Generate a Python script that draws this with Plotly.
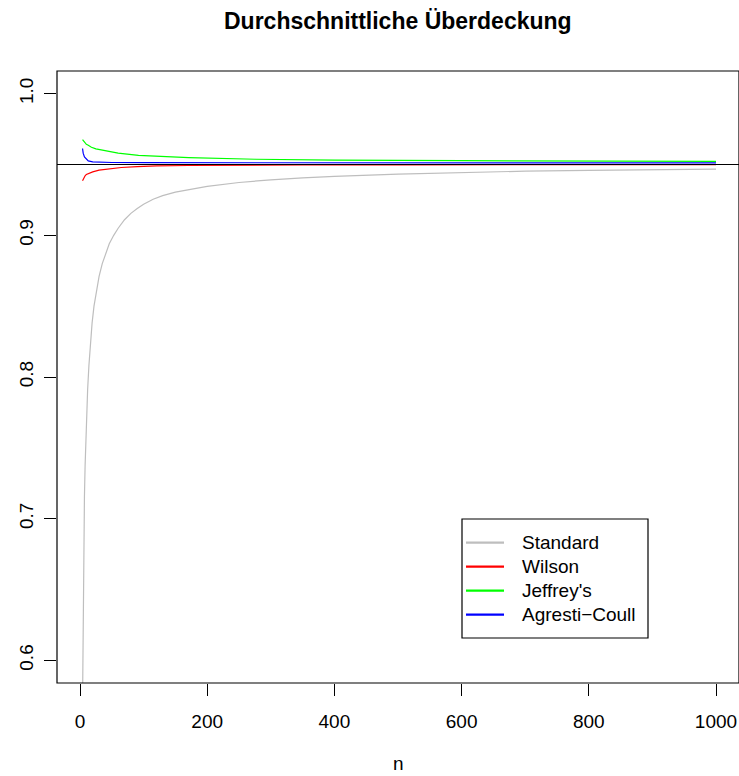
import plotly.graph_objects as go

# Average coverage of binomial confidence intervals as a function of n
n_standard = [4, 5, 6, 7, 8, 9, 10, 12, 14, 16, 19, 22, 26, 30, 35, 40, 46, 53, 60,
              70, 80, 90, 100, 115, 130, 150, 175, 200, 250, 300, 350, 400, 500, 600,
              700, 800, 900, 1000]
cov_standard = [0.570, 0.645, 0.688, 0.716, 0.737, 0.754, 0.768, 0.791, 0.808, 0.822,
                0.838, 0.850, 0.862, 0.871, 0.880, 0.887, 0.894, 0.900, 0.905,
                0.911, 0.9155, 0.919, 0.922, 0.9255, 0.928, 0.9305, 0.9328, 0.9346,
                0.9373, 0.9392, 0.9405, 0.9416, 0.9432, 0.9444, 0.9453, 0.9459, 0.9464,
                0.9467]

n_wilson = [4, 6, 8, 10, 15, 20, 30, 45, 65, 90, 120, 170, 250, 350, 500, 700, 1000]
cov_wilson = [0.9385, 0.9405, 0.9420, 0.9430, 0.9440, 0.9448, 0.9460, 0.9470, 0.9479,
              0.9485, 0.9490, 0.9493, 0.9496, 0.9497, 0.9498, 0.9498, 0.9499]

n_jeffreys = [4, 6, 8, 10, 13, 18, 25, 39, 60, 92, 130, 171, 276, 400, 600, 800, 1000]
cov_jeffreys = [0.9676, 0.9662, 0.9650, 0.9642, 0.9636, 0.9622, 0.9610, 0.9596, 0.9580,
                0.9565, 0.9556, 0.9549, 0.9537, 0.9531, 0.9527, 0.9524, 0.9522]

n_agresti = [4, 5, 7, 10, 13, 20, 29, 50, 100, 200, 400, 700, 1000]
cov_agresti = [0.9613, 0.9580, 0.9554, 0.9535, 0.9525, 0.9519, 0.9516, 0.9514, 0.9513,
               0.9512, 0.9511, 0.9511, 0.9511]

nominal = 0.95
x_ticks = [0, 200, 400, 600, 800, 1000]
y_ticks = [0.6, 0.7, 0.8, 0.9, 1.0]
y_tick_text = ["0.6", "0.7", "0.8", "0.9", "1.0"]

series = [
    ("Standard", n_standard, cov_standard, "#BEBEBE"),
    ("Wilson", n_wilson, cov_wilson, "#FF0000"),
    ("Jeffrey's", n_jeffreys, cov_jeffreys, "#00FF00"),
    ("Agresti\u2212Coull", n_agresti, cov_agresti, "#0000FF"),
]

W, H = 739, 776
ML, MR, MT, MB = 57, 0, 71, 93
FONT = "Liberation Sans, Arial, Helvetica, sans-serif"
FS = 19

def px_x(p):
    return (p - ML) / (W - ML - MR)

def px_y(p):
    return (H - MB - p) / (H - MT - MB)

fig = go.Figure()

for name, xs, ys, col in series:
    fig.add_trace(go.Scatter(x=xs, y=ys, mode="lines", name=name,
                             line=dict(color=col, width=1.2), showlegend=False,
                             hoverinfo="skip"))

# reference line at the nominal level
fig.add_trace(go.Scatter(x=[-100, 1200], y=[nominal, nominal], mode="lines",
                         line=dict(color="black", width=1.2), showlegend=False,
                         hoverinfo="skip"))

shapes = [dict(type="rect", xref="paper", yref="paper", x0=0, x1=1, y0=0, y1=1,
               line=dict(color="black", width=1.2), fillcolor="rgba(0,0,0,0)")]
annotations = []

# legend box
lx0, lx1, ly0, ly1 = 462, 648, 519, 638
shapes.append(dict(type="rect", xref="paper", yref="paper",
                   x0=px_x(lx0), x1=px_x(lx1), y0=px_y(ly1), y1=px_y(ly0),
                   line=dict(color="black", width=1.2), fillcolor="white"))
for i, (name, xs, ys, col) in enumerate(series):
    yy = 542.7 + i * 24
    shapes.append(dict(type="line", xref="paper", yref="paper",
                       x0=px_x(466), x1=px_x(504), y0=px_y(yy), y1=px_y(yy),
                       line=dict(color=col, width=2.2)))
    annotations.append(dict(text=name, xref="paper", yref="paper",
                            x=px_x(519.5), y=px_y(yy), xanchor="left", yanchor="middle",
                            showarrow=False, font=dict(family=FONT, size=FS, color="black")))

# title and axis label
annotations.append(dict(text="<b>Durchschnittliche Überdeckung</b>", xref="paper", yref="paper",
                        x=0.5, y=px_y(21), xanchor="center", yanchor="middle",
                        showarrow=False, font=dict(family=FONT, size=23, color="black")))
annotations.append(dict(text="n", xref="paper", yref="paper",
                        x=0.5, y=px_y(763), xanchor="center", yanchor="middle",
                        showarrow=False, font=dict(family=FONT, size=FS, color="black")))

xpp = (716 - 80) / 1000.0
x_range = [(ML - 80) / xpp, (W - MR - 80) / xpp]

fig.update_layout(
    width=W, height=H,
    margin=dict(l=ML, r=MR, t=MT, b=MB, pad=0),
    paper_bgcolor="white", plot_bgcolor="white",
    shapes=shapes, annotations=annotations,
    font=dict(family=FONT, size=FS, color="black"),
    xaxis=dict(range=x_range, tickvals=x_ticks, ticks="outside", ticklen=12,
               tickwidth=1.2, tickcolor="black", showgrid=False, zeroline=False,
               showline=False, tickfont=dict(family=FONT, size=FS, color="black"),
               ticklabelstandoff=9),
    yaxis=dict(range=[0.584, 1.016], tickvals=y_ticks, ticktext=y_tick_text,
               ticks="outside", ticklen=12, tickwidth=1.2, tickcolor="black",
               showgrid=False, zeroline=False, showline=False, tickangle=-90,
               tickfont=dict(family=FONT, size=FS, color="black"),
               ticklabelstandoff=3),
)

fig.write_html("out.html")
